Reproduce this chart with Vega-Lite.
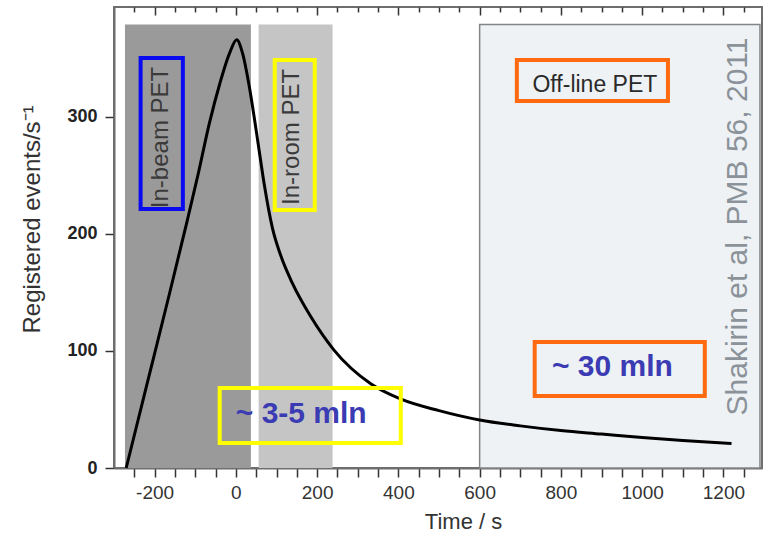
{
  "$schema": "https://vega.github.io/schema/vega-lite/v6.json",
  "width": 648,
  "height": 461,
  "autosize": {"type": "none"},
  "padding": {"left": 114, "top": 7, "right": 8, "bottom": 70},
  "background": "white",
  "config": {
    "font": "Liberation Sans",
    "view": {"stroke": "#6e6e6e", "strokeWidth": 2}
  },
  "encoding": {
    "x": {
      "field": "t", "type": "quantitative",
      "scale": {"domain": [-300, 1295], "nice": false, "zero": false},
      "axis": {
        "orient": "bottom",
        "values": [-250,-200,-150,-100,-50,0,50,100,150,200,250,300,350,400,450,500,550,600,650,700,750,800,850,900,950,1000,1050,1100,1150,1200,1250],
        "labelExpr": "datum.value % 200 === 0 ? '' + datum.value : ''",
        "labelOverlap": false,
        "labelFlush": false,
        "tickSize": 9,
        "tickColor": "#333333",
        "tickWidth": 1.5,
        "domainColor": "#6e6e6e",
        "domainWidth": 2,
        "grid": true,
        "gridColor": "#333333",
        "gridWidth": 1.5,
        "gridOpacity": 1,
        "gridDash": {"condition": {"test": "datum.value % 200 === 0", "value": [8, 470]}, "value": [5, 470]},
        "encoding": {
          "ticks": {"update": {"y2": {"signal": "datum.value % 200 === 0 ? 9 : 5"}}}
        },
        "labelFontSize": 19,
        "labelColor": "#333333",
        "labelPadding": 6,
        "title": "Time / s",
        "titleFontSize": 22,
        "titleFontWeight": "normal",
        "titleColor": "#333333",
        "titleX": 349,
        "titleY": 60,
        "titleBaseline": "alphabetic",
        "titleAlign": "center",
        "titleAnchor": null
      }
    },
    "y": {
      "field": "v", "type": "quantitative",
      "scale": {"domain": [0, 394], "nice": false},
      "axis": {
        "values": [0, 100, 200, 300],
        "tickSize": 9,
        "tickColor": "#333333",
        "tickWidth": 1.5,
        "domainColor": "#6e6e6e",
        "domainWidth": 2,
        "grid": false,
        "labelFontSize": 18,
        "labelFontWeight": "bold",
        "labelColor": "#222222",
        "labelPadding": 8,
        "title": "Registered events/s⁻¹",
        "titleFontSize": 24,
        "titleFontWeight": "normal",
        "titleColor": "#333333",
        "titleAngle": 270,
        "titleX": -70,
        "titleY": 212,
        "titleBaseline": "bottom",
        "titleAlign": "center",
        "titleAnchor": null
      }
    }
  },
  "layer": [
    {
      "data": {"values": [
        {"window": "In-beam PET", "t": -273, "t2": 37, "v": 379},
        {"window": "In-room PET", "t": 56, "t2": 238, "v": 379},
        {"window": "Off-line PET", "t": 600, "t2": 1290, "v": 379}
      ]},
      "mark": {"type": "rect", "strokeWidth": 1.5},
      "encoding": {
        "x2": {"field": "t2"},
        "y2": {"datum": 0},
        "fill": {
          "field": "window", "type": "nominal",
          "scale": {"domain": ["In-beam PET", "In-room PET", "Off-line PET"], "range": ["#9a9a9a", "#c5c5c5", "#eef2f5"]},
          "legend": null
        },
        "stroke": {
          "condition": {"test": "datum.window === 'Off-line PET'", "value": "#858585"},
          "value": "transparent"
        }
      }
    },
    {
      "data": {"values": [
        {"t": -270, "v": 0}, {"t": -220, "v": 70}, {"t": -167, "v": 144}, {"t": -120, "v": 211},
        {"t": -93, "v": 251}, {"t": -65, "v": 295}, {"t": -40, "v": 328}, {"t": -15, "v": 355},
        {"t": 2, "v": 366}, {"t": 16, "v": 355}, {"t": 33, "v": 326}, {"t": 45, "v": 300},
        {"t": 57, "v": 272}, {"t": 70, "v": 242}, {"t": 90, "v": 205}, {"t": 110, "v": 182},
        {"t": 139, "v": 158}, {"t": 185, "v": 129}, {"t": 241, "v": 101}, {"t": 332, "v": 72},
        {"t": 405, "v": 59}, {"t": 500, "v": 49}, {"t": 600, "v": 41}, {"t": 700, "v": 36},
        {"t": 800, "v": 32}, {"t": 900, "v": 29}, {"t": 1000, "v": 26}, {"t": 1100, "v": 23.5},
        {"t": 1220, "v": 21}
      ]},
      "mark": {"type": "line", "color": "#000000", "strokeWidth": 3, "interpolate": "monotone"},
      "encoding": {}
    },
    {
      "data": {"values": [
        {"box": "In-beam PET", "t": -234.5, "t2": -130.5, "v": 350.4, "v2": 221.4},
        {"box": "In-room PET", "t": 95.6, "t2": 194.1, "v": 348.7, "v2": 220.5},
        {"box": "Off-line PET", "t": 691.6, "t2": 1063.5, "v": 348.7, "v2": 313.7},
        {"box": "~ 3-5 mln", "t": -39.9, "t2": 405.9, "v": 68.4, "v2": 21.4},
        {"box": "~ 30 mln", "t": 735.5, "t2": 1154.2, "v": 107.7, "v2": 61.5}
      ]},
      "mark": {"type": "rect", "fillOpacity": 0, "strokeWidth": 4},
      "encoding": {
        "x2": {"field": "t2"},
        "y2": {"field": "v2"},
        "stroke": {
          "field": "box", "type": "nominal",
          "scale": {"domain": ["In-beam PET", "In-room PET", "Off-line PET", "~ 3-5 mln", "~ 30 mln"], "range": ["#0a0af0", "#ffff00", "#ff6a10", "#ffff00", "#ff6a10"]},
          "legend": null
        }
      }
    },
    {
      "data": {"values": [
        {"label": "In-beam PET", "t": -184, "v": 282.5},
        {"label": "In-room PET", "t": 138.7, "v": 283}
      ]},
      "mark": {"type": "text", "angle": 270, "fontSize": 24, "color": "#3a3a3a", "baseline": "middle", "align": "center"},
      "encoding": {"text": {"field": "label"}}
    },
    {
      "data": {"values": [
        {"label": "Off-line PET", "t": 883.7, "v": 327.4}
      ]},
      "mark": {"type": "text", "fontSize": 23, "color": "#2a2a2a", "baseline": "middle", "align": "center"},
      "encoding": {"text": {"field": "label"}}
    },
    {
      "data": {"values": [
        {"label": "~ 3-5 mln", "t": 160.8, "v": 46.2},
        {"label": "~ 30 mln", "t": 926.8, "v": 85.9}
      ]},
      "mark": {"type": "text", "fontSize": 30, "fontWeight": "bold", "color": "#3b3bb3", "baseline": "middle", "align": "center"},
      "encoding": {"text": {"field": "label"}}
    },
    {
      "data": {"values": [
        {"label": "Shakirin et al, PMB 56, 2011", "t": 1236, "v": 206.4}
      ]},
      "mark": {"type": "text", "angle": 270, "fontSize": 30, "color": "#8b9299", "baseline": "middle", "align": "center"},
      "encoding": {"text": {"field": "label"}}
    }
  ]
}
